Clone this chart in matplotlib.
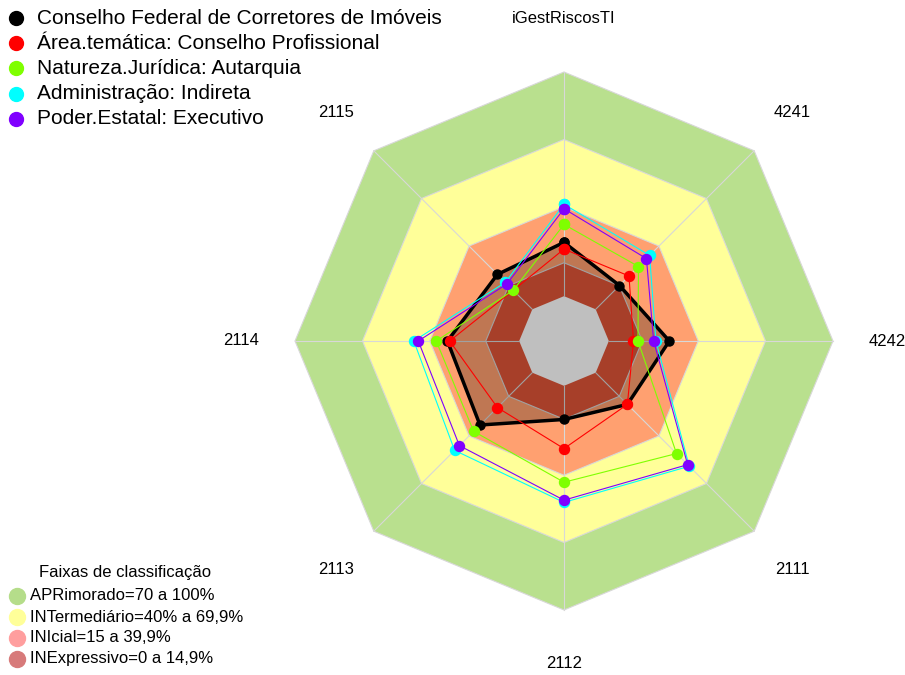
import matplotlib.pyplot as plt
from matplotlib.patches import Polygon
import numpy as np

plt.rcParams['font.family'] = ['Liberation Sans', 'DejaVu Sans']

# axes, counter-clockwise from the top
eixos = ["iGestRiscosTI", "2115", "2114", "2113", "2112", "2111", "4242", "4241"]

series_nomes = [
    "Conselho Federal de Corretores de Imóveis",
    "Área.temática: Conselho Profissional",
    "Natureza.Jurídica: Autarquia",
    "Administração: Indireta",
    "Poder.Estatal: Executivo",
]
conselho = [0.24, 0.22, 0.32, 0.33, 0.15, 0.20, 0.27, 0.15]
area_tematica = [0.21, 0.12, 0.31, 0.22, 0.28, 0.20, 0.11, 0.21]
natureza = [0.32, 0.12, 0.37, 0.37, 0.43, 0.51, 0.13, 0.27]
administracao = [0.41, 0.17, 0.47, 0.49, 0.52, 0.59, 0.21, 0.34]
poder = [0.39, 0.16, 0.45, 0.46, 0.51, 0.58, 0.20, 0.32]
valores = [conselho, area_tematica, natureza, administracao, poder]
cores = ["black", "red", "#7FFF00", "cyan", "#8000FF"]

faixas_nomes = ["APRimorado=70 a 100%", "INTermediário=40% a 69,9%",
                "INIcial=15 a 39,9%", "INExpressivo=0 a 14,9%"]
faixas_limites = [1.0, 0.699, 0.399, 0.149]
faixas_cores = ["#B9E08E", "#FFFF99", "#FFA070", "#E05538"]
faixas_legenda = ["#B5DD8A", "#FFFF99", "#FF9E9E", "#D77A7A"]

W, H = 905, 675
cx, cy, R = 564, 341, 269
r0 = 1 / 6

fig = plt.figure(figsize=(W / 100, H / 100), dpi=100, facecolor="white")
ax = fig.add_axes([0, 0, 1, 1])
ax.set_xlim(-cx / R, (W - cx) / R)
ax.set_ylim(-(H - cy) / R, cy / R)
ax.set_aspect("equal")
ax.axis("off")

n = len(eixos)
ang = np.pi / 2 + 2 * np.pi * np.arange(n) / n


def raio(v):
    return r0 + np.asarray(v) * (1 - r0)


def octogono(v):
    r = raio(v) * np.ones(n)
    return np.column_stack([r * np.cos(ang), r * np.sin(ang)])


# classification bands
for lim, cor in zip(faixas_limites, faixas_cores):
    ax.add_patch(Polygon(octogono(lim), closed=True, facecolor=cor,
                         edgecolor="#D8D8D8", linewidth=0.8, zorder=1))
ax.add_patch(Polygon(octogono(0), closed=True, facecolor="white",
                     edgecolor="none", zorder=1))

# spokes
for a in ang:
    ax.plot([r0 * np.cos(a), np.cos(a)], [r0 * np.sin(a), np.sin(a)],
            color="#D8D8D8", linewidth=0.8, zorder=2)

# axis labels
for a, nome in zip(ang, eixos):
    ax.text(1.2 * np.cos(a), 1.2 * np.sin(a), nome, fontsize=12,
            ha="center", va="center")

# series
for i, (v, cor) in enumerate(zip(valores, cores)):
    r = raio(v)
    x = np.append(r * np.cos(ang), r[0] * np.cos(ang[0]))
    y = np.append(r * np.sin(ang), r[0] * np.sin(ang[0]))
    if i == 0:
        ax.fill(x, y, color="black", alpha=0.25, linewidth=0, zorder=3)
        ax.plot(x, y, color=cor, linewidth=2.5, marker="o", markersize=6.5,
                zorder=4)
    else:
        ax.plot(x, y, color=cor, linewidth=0.8, marker="o", markersize=7.2,
                zorder=4 + i)


def px(x, y):
    return x / W, 1 - y / H


# series legend
for k, (nome, cor) in enumerate(zip(series_nomes, cores)):
    yy = 18 + 25.2 * k
    ax.plot(*px(16, yy), marker="o", markersize=10, color=cor,
            transform=fig.transFigure, clip_on=False)
    fig.text(*px(37, yy), nome, fontsize=15, va="center", ha="left")

# classification legend
fig.text(*px(125, 572), "Faixas de classificação", fontsize=12,
         ha="center", va="center")
for k, (nome, cor) in enumerate(zip(faixas_nomes, faixas_legenda)):
    yy = 596 + 21 * k
    ax.plot(*px(17, yy), marker="o", markersize=11.5, color=cor,
            markeredgecolor=cor, transform=fig.transFigure, clip_on=False)
    fig.text(*px(30, yy), nome, fontsize=12, va="center", ha="left")

fig.savefig("out.png", dpi=100, facecolor="white")
